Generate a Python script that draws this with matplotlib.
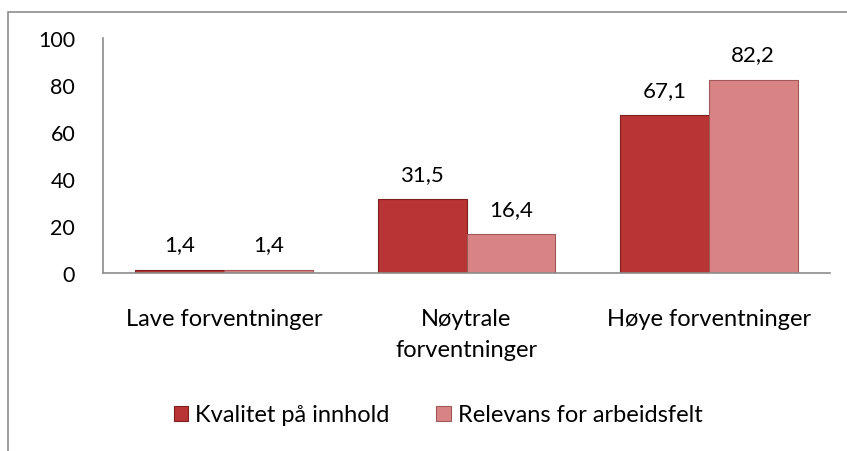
import numpy as np
import matplotlib.pyplot as plt
from matplotlib.patches import Rectangle

plt.rcParams['font.family'] = ['Lato', 'DejaVu Sans']

categories = ['Lave forventninger', 'Nøytrale\nforventninger', 'Høye forventninger']
series_names = ['Kvalitet på innhold', 'Relevans for arbeidsfelt']
kvalitet = [1.4, 31.5, 67.1]
relevans = [1.4, 16.4, 82.2]
value_labels_k = ['1,4', '31,5', '67,1']
value_labels_r = ['1,4', '16,4', '82,2']

colors = ['#B93434', '#D98484']
edges = ['#7E1E1E', '#A05858']

fig = plt.figure(figsize=(8.47, 4.52), dpi=100)
ax = fig.add_axes([103 / 847, 178 / 452, 727 / 847, 235 / 452])

# chart border (cropped at right and bottom)
fig.patches.append(Rectangle((8 / 847, -0.05), 1.1, 1 - 13 / 452 + 0.05,
                             transform=fig.transFigure, fill=False,
                             edgecolor='#8C8C8C', linewidth=1.2))

x = np.arange(len(categories))
w = 0.367
b1 = ax.bar(x - w / 2, kvalitet, w, color=colors[0], edgecolor=edges[0],
            linewidth=0.8, label=series_names[0])
b2 = ax.bar(x + w / 2, relevans, w, color=colors[1], edgecolor=edges[1],
            linewidth=0.8, label=series_names[1])

for bars, labs in [(b1, value_labels_k), (b2, value_labels_r)]:
    for rect, lab in zip(bars, labs):
        ax.annotate(lab, (rect.get_x() + rect.get_width() / 2, rect.get_height()),
                    xytext=(0, 11), textcoords='offset points',
                    ha='center', va='bottom', fontsize=16)

ax.set_xlim(-0.5, 2.5)
ax.set_ylim(0, 100)
ax.set_yticks(range(0, 101, 20))
ax.set_xticks(x)
ax.set_xticklabels(categories, linespacing=1.6)
ax.tick_params(axis='y', length=0, pad=20, labelsize=15.5)
ax.tick_params(axis='x', length=0, pad=25, labelsize=17)
for s in ['top', 'right']:
    ax.spines[s].set_visible(False)
for s in ['left', 'bottom']:
    ax.spines[s].set_color('#8C8C8C')
    ax.spines[s].set_linewidth(1.2)

fig.legend(handles=[b1, b2], labels=series_names, loc='center',
           bbox_to_anchor=(438 / 847, 1 - 416 / 452), ncol=2, frameon=False,
           fontsize=17, handlelength=0.6, handleheight=0.6,
           handletextpad=0.3, columnspacing=2.0)

fig.savefig('out.png', dpi=100)
